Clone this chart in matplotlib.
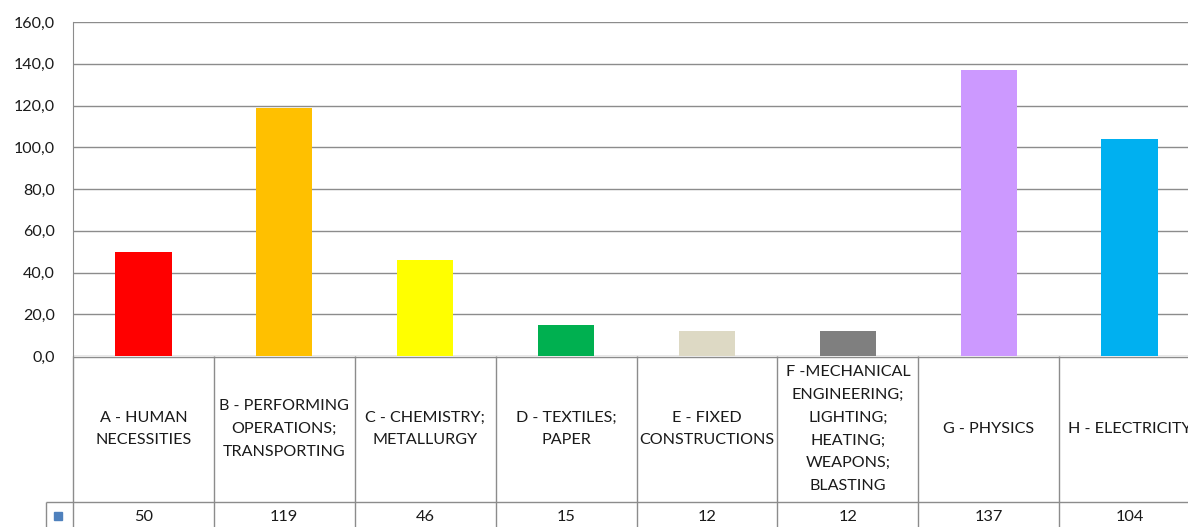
import numpy as np
import matplotlib.pyplot as plt

plt.rcParams['font.family'] = ['Lato', 'DejaVu Sans']

# data
categories = ['A - HUMAN\nNECESSITIES',
              'B - PERFORMING\nOPERATIONS;\nTRANSPORTING',
              'C - CHEMISTRY;\nMETALLURGY',
              'D - TEXTILES;\nPAPER',
              'E - FIXED\nCONSTRUCTIONS',
              'F -MECHANICAL\nENGINEERING;\nLIGHTING;\nHEATING;\nWEAPONS;\nBLASTING',
              'G - PHYSICS',
              'H - ELECTRICITY']
values = [50, 119, 46, 15, 12, 12, 137, 104]
colors = ['#FF0000', '#FFC000', '#FFFF00', '#00B050',
          '#DDD9C4', '#7F7F7F', '#CC99FF', '#00B0F0']
yticks = [0, 20, 40, 60, 80, 100, 120, 140, 160]

W, H = 1188, 527
fig = plt.figure(figsize=(W / 100, H / 100), dpi=100)

# plot area in pixels (it runs past the right edge, like the screenshot)
x0, x1 = 73, 1200
ytop, ybot = 22, 356
ax = fig.add_axes([x0 / W, (H - ybot) / H, (x1 - x0) / W, (ybot - ytop) / H])

x = np.arange(len(values))
ax.bar(x, values, width=0.4, color=colors, zorder=3)
ax.set_xlim(-0.5, len(values) - 0.5)
ax.set_ylim(0, 160)
ax.set_yticks(yticks)
ax.set_yticklabels([f'{v:.1f}'.replace('.', ',') for v in yticks], fontsize=11.5)
ax.set_xticks([])
ax.tick_params(axis='y', length=0, pad=13, colors='#1a1a1a')
ax.grid(axis='y', color='#8C8C8C', linewidth=1, zorder=0)
for s in ['top', 'right', 'bottom']:
    ax.spines[s].set_visible(False)
ax.spines['left'].set_color('#8C8C8C')

# data table below the chart
tab = fig.add_axes([0, 0, 1, (H - ybot) / H])
tab.set_xlim(0, W)
tab.set_ylim(H, ybot)
tab.axis('off')
lc = '#8C8C8C'
colw = (x1 - x0) / len(values)
ysep, yend = 502, 535
tab.hlines(ybot + 0.5, x0, W, color=lc, lw=1)
tab.hlines(ysep, 46, W, color=lc, lw=1)
for i in range(len(values) + 1):
    xb = x0 + i * colw
    tab.vlines(xb, ybot, yend, color=lc, lw=1)
tab.vlines(46, ysep, yend, color=lc, lw=1)
tab.plot([58], [516], marker='s', markersize=6, color='#4F81BD', linestyle='none')

for i, (c, v) in enumerate(zip(categories, values)):
    xc = x0 + (i + 0.5) * colw
    tab.text(xc, (ybot + ysep) / 2, c, ha='center', va='center',
             fontsize=11.6, linespacing=1.8, color='#1a1a1a')
    tab.text(xc, 517, str(v), ha='center', va='center', fontsize=11.8, color='#1a1a1a')

fig.savefig('out.png', dpi=100)
